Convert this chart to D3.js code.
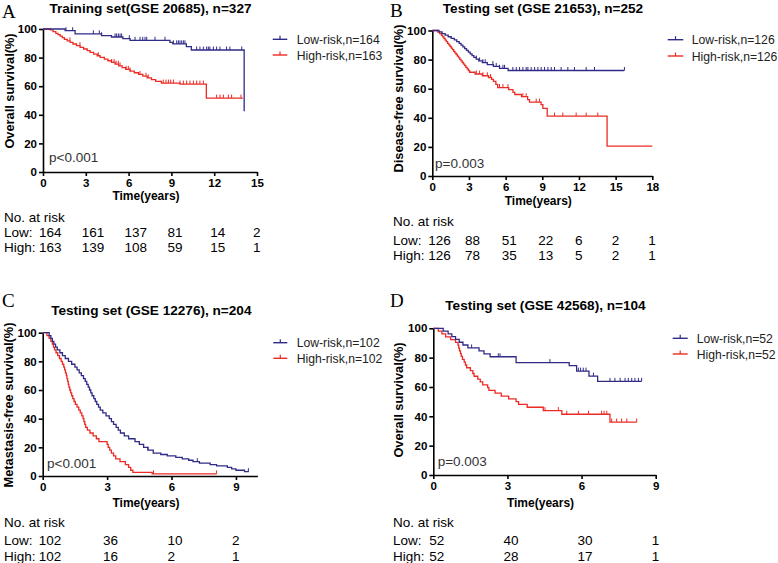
<!DOCTYPE html>
<html><head><meta charset="utf-8">
<script src="https://cdn.jsdelivr.net/npm/d3@7/dist/d3.min.js"></script>
<style>body{margin:0;background:#fff}svg{display:block}</style>
</head><body>
<svg id="c" width="778" height="563"></svg>
<script>
// ---------- DATA ----------
const panelLetters = ["A", "B", "C", "D"];
const titles = ["Training set(GSE 20685), n=327", "Testing set (GSE 21653), n=252",
                "Testing set (GSE 12276), n=204", "Testing set (GSE 42568), n=104"];
const yTitles = ["Overall survival(%)", "Disease-free survival(%)", "Metastasis-free survival(%)", "Overall survival(%)"];
const xTitle = "Time(years)";
const pValues = ["p<0.001", "p=0.003", "p<0.001", "p=0.003"];
const lowLegend = ["Low-risk,n=164", "Low-risk,n=126", "Low-risk,n=102", "Low-risk,n=52"];
const highLegend = ["High-risk,n=163", "High-risk,n=126", "High-risk,n=102", "High-risk,n=52"];
const yTicks = [0, 20, 40, 60, 80, 100];
const xDomains = [15, 18, 10, 9];
const aXTicks = [0, 3, 6, 9, 12, 15];
const bXTicks = [0, 3, 6, 9, 12, 15, 18];
const cXTicks = [0, 3, 6, 9];
const dXTicks = [0, 3, 6, 9];

// Panel A (time, survival %)
const aLowSteps = [[0,100],[1.55,98.8],[2.25,96.6],[4.1,95.3],[4.8,94.4],[5.6,93.2],[6.1,92.1],[8.9,90.6],[9.1,89.6],[10.05,87.7],[10.4,85.3],[14.1,42.4]];
const aLowCensor = [1.61,2.08,3.53,3.95,4.11,5.05,5.16,5.28,5.4,5.51,6.05,6.45,6.8,6.99,7.15,7.27,7.85,8.55,9.14,9.37,9.49,9.6,9.72,9.84,9.95,10.77,11.0,11.24,11.47,11.59,11.7,11.94,12.17,12.4,12.87,13.1,13.93];
const aHighSteps = [[0,100],[0.5,99.4],[0.7,98.2],[0.9,97],[1.05,96],[1.2,95],[1.35,93.9],[1.5,92.8],[1.7,91.7],[1.9,90.6],[2.1,89.5],[2.35,88.4],[2.6,87.2],[2.85,86],[3.1,84.9],[3.3,83.7],[3.55,82.5],[3.8,81.3],[4.0,80.2],[4.3,79],[4.55,77.8],[4.8,76.6],[5.05,75.4],[5.3,74.2],[5.55,73],[5.8,71.8],[6.1,70.6],[6.4,69.4],[6.7,68.2],[7.0,67],[7.3,65.8],[7.6,64.6],[7.9,63.4],[8.3,62.2],[9.6,61.5],[11.45,51.7],[14.0,51.7]];
const aHighCensor = [1.89,2.59,3.88,4.81,4.98,5.12,5.28,5.4,5.82,5.98,6.1,6.8,7.22,7.38,8.43,8.62,8.79,8.95,9.14,9.6,9.84,10.07,10.3,10.54,10.77,11.0,11.24,12.17,12.4,12.64,12.99,13.22,13.88];
const aRiskLow = [164, 161, 137, 81, 14, 2];
const aRiskHigh = [163, 139, 108, 59, 15, 1];

// Panel B
const bLowSteps = [[0,100],[0.55,99],[0.8,97.9],[1.05,96.8],[1.3,95.7],[1.55,94.6],[1.8,93.5],[2.0,92.3],[2.2,91.1],[2.35,89.9],[2.5,88.7],[2.65,87.5],[2.8,86.3],[2.95,85.1],[3.1,83.9],[3.25,82.7],[3.4,81.5],[3.6,80.3],[3.8,79.1],[4.1,77.9],[4.5,76.6],[5.0,75.3],[5.5,74.0],[6.2,72.5],[15.7,72.5]];
const bLowCensor = [3.6,3.87,4.14,4.33,4.96,5.23,5.5,5.78,5.91,6.59,6.87,7.14,7.41,7.68,7.82,8.09,8.37,8.64,8.91,9.18,9.46,9.73,10.0,10.54,11.09,11.63,12.59,13.27,15.72];
const bHighSteps = [[0,100],[0.45,98.9],[0.6,97.8],[0.75,96.7],[0.85,95.6],[0.95,94.5],[1.05,93.4],[1.15,92.3],[1.25,91.2],[1.35,90.1],[1.45,89.0],[1.55,87.9],[1.65,86.8],[1.75,85.7],[1.85,84.6],[1.95,83.5],[2.05,82.4],[2.15,81.3],[2.25,80.2],[2.35,79.1],[2.45,78.0],[2.55,76.9],[2.65,75.8],[2.75,74.7],[2.85,73.6],[2.95,72.5],[3.05,71.3],[3.5,70.1],[4.1,68.9],[4.6,67.7],[4.85,66.4],[5.0,65.1],[5.2,63.0],[5.35,60.8],[6.25,59.4],[6.6,57.5],[6.75,56.0],[7.3,54.5],[7.8,52.5],[7.95,50.8],[8.9,49.0],[9.05,46.5],[9.4,41.2],[14.3,20.6],[18.0,20.6]];
const bHighCensor = [3.6,3.87,4.14,4.5,4.77,5.5,5.78,6.19,7.41,7.68,8.5,8.77,10.0,10.68,11.77,12.59,13.54];
const bRiskLow = [126, 88, 51, 22, 6, 2, 1];
const bRiskHigh = [126, 78, 35, 13, 5, 2, 1];

// Panel C
const cLowSteps = [[0,100],[0.3,98],[0.38,96],[0.45,94],[0.52,92],[0.6,90],[0.68,88],[0.8,86],[0.92,84],[1.05,82],[1.2,80],[1.35,78],[1.5,76],[1.6,74],[1.7,72],[1.8,70],[1.9,68],[1.98,66],[2.05,64],[2.12,62],[2.18,60],[2.24,58],[2.3,56],[2.38,54],[2.45,52],[2.52,50],[2.6,48],[2.68,46],[2.8,44],[2.95,42],[3.1,40],[3.2,38],[3.3,36],[3.42,34],[3.52,32],[3.62,30],[3.8,28],[4.0,26],[4.3,24],[4.5,22],[4.7,20],[4.9,18],[5.15,16],[5.5,15],[5.8,14],[6.2,13],[6.5,12],[6.8,11],[7.0,10],[7.3,9],[7.8,8],[8.1,7],[8.6,6],[8.8,5],[9.0,4],[9.4,3],[9.6,3]];
const cLowCensor = [4.9, 7.2, 9.58];
const cHighSteps = [[0,100],[0.2,98],[0.3,96],[0.38,94],[0.45,92],[0.5,90],[0.55,88],[0.62,86],[0.7,84],[0.78,82],[0.86,80],[0.92,78],[0.98,76],[1.02,74],[1.06,72],[1.1,70],[1.13,68],[1.16,66],[1.19,64],[1.22,62],[1.26,60],[1.3,58],[1.35,56],[1.4,54],[1.46,52],[1.52,50],[1.6,48],[1.68,46],[1.75,44],[1.82,42],[1.88,40],[1.92,38],[1.96,36],[2.0,34],[2.08,32],[2.2,30],[2.35,28],[2.5,26],[2.62,24],[3.0,22],[3.05,20],[3.12,18],[3.2,16],[3.3,14],[3.4,12],[3.6,10],[3.85,8],[4.0,6],[4.1,4],[4.2,2.5],[5.1,1.5],[8.1,1.5]];
const cHighCensor = [5.16, 8.1];
const cRiskLow = [102, 36, 10, 2];
const cRiskHigh = [102, 16, 2, 1];

// Panel D
const dLowSteps = [[0,100],[0.4,98.1],[0.6,96.2],[0.75,94.3],[0.9,92.4],[1.05,90.5],[1.2,88.6],[1.4,86.6],[1.85,84.6],[2.05,82.6],[2.3,80.6],[3.35,76.6],[5.5,74.6],[5.8,70.8],[6.3,67.4],[6.65,63.8],[8.43,63.8]];
const dLowCensor = [1.55,2.63,2.7,4.72,5.87,5.96,6.07,6.18,6.48,7.15,7.35,7.56,7.76,7.89,8.03,8.16,8.3,8.43];
const dHighSteps = [[0,100],[0.2,98.1],[0.35,96.2],[0.5,94.2],[0.7,92.3],[0.9,90.4],[1.0,88.5],[1.03,86.5],[1.06,84.6],[1.1,82.7],[1.13,80.8],[1.18,78.8],[1.25,76.9],[1.3,75],[1.35,73.1],[1.5,71.2],[1.6,69.2],[1.65,67.3],[1.8,65.4],[1.9,63.5],[2.0,61.5],[2.2,59.6],[2.25,57.7],[2.5,55.8],[2.75,53.8],[3.05,51.9],[3.35,50],[3.45,48.1],[3.8,46.2],[4.45,43.9],[5.2,41.4],[7.15,36.1],[8.23,36.1]];
const dHighCensor = [4.52,5.06,5.4,5.87,6.28,6.81,6.91,7.02,7.22,7.42,7.62,7.83,8.23];
const dRiskLow = [52, 40, 30, 1];
const dRiskHigh = [52, 28, 17, 1];

// ---------- LAYOUT ----------
const BLUE = "#2f2b86", RED = "#ec2b25";
const SANS = "'Liberation Sans', Arial, Helvetica, sans-serif";
const SERIF = "'Liberation Serif', 'Times New Roman', serif";

const panels = [
  {xTicks: aXTicks, low: aLowSteps, lowC: aLowCensor, high: aHighSteps, highC: aHighCensor, rLow: aRiskLow, rHigh: aRiskHigh,
   x0: 43, x1: 257, yT: 29, yB: 172, letter: [2, 17.5], title: [150.5, 12.5], ytit: [10, 91], xtitY: 200, p: [49, 162],
   leg: [272.7, 287.3, 296.7, 39.3, 55], risk: [4, 222, 237, 252]},
  {xTicks: bXTicks, low: bLowSteps, lowC: bLowCensor, high: bHighSteps, highC: bHighCensor, rLow: bRiskLow, rHigh: bRiskHigh,
   x0: 432.3, x1: 652.3, yT: 30.5, yB: 176, letter: [390, 16.5], title: [543, 13], ytit: [399, 98.5], xtitY: 205, p: [435, 168],
   leg: [667.7, 683.3, 691.7, 39.7, 56], risk: [393, 226, 245, 260]},
  {xTicks: cXTicks, low: cLowSteps, lowC: cLowCensor, high: cHighSteps, highC: cHighCensor, rLow: cRiskLow, rHigh: cRiskHigh,
   x0: 42.7, x1: 257.4, yT: 332.7, yB: 476, letter: [2, 307], title: [151.3, 315], ytit: [8.5, 405], xtitY: 507, p: [47, 468],
   leg: [273.3, 287.3, 296.7, 342.7, 358.3], risk: [4, 527, 545, 561]},
  {xTicks: dXTicks, low: dLowSteps, lowC: dLowCensor, high: dHighSteps, highC: dHighCensor, rLow: dRiskLow, rHigh: dRiskHigh,
   x0: 433.3, x1: 655.7, yT: 328.3, yB: 475, letter: [390, 307], title: [545.5, 309.5], ytit: [398.5, 400], xtitY: 507, p: [437.7, 465.7],
   leg: [672.7, 687.7, 696.7, 338.3, 354], risk: [393, 527, 545, 561]}
];

const svg = d3.select("#c");

function survAt(steps, t) {
  let s = steps[0][1];
  for (const [tt, ss] of steps) { if (tt <= t + 1e-9) s = ss; else break; }
  return s;
}

panels.forEach((P, i) => {
  const g = svg.append("g");
  const x = d3.scaleLinear().domain([0, xDomains[i]]).range([P.x0, P.x1]);
  const y = d3.scaleLinear().domain([0, 100]).range([P.yB, P.yT]);

  g.append("text").attr("x", P.letter[0]).attr("y", P.letter[1]).text(panelLetters[i])
    .attr("font-family", SERIF).attr("font-size", 19).attr("fill", "#000");
  g.append("text").attr("x", P.title[0]).attr("y", P.title[1]).text(titles[i])
    .attr("text-anchor", "middle").attr("font-family", SANS).attr("font-weight", "bold").attr("font-size", 13.6);

  const xAxis = d3.axisBottom(x).tickValues(P.xTicks).tickSize(4).tickSizeOuter(0).tickFormat(d3.format("d"));
  const yAxis = d3.axisLeft(y).tickValues(yTicks).tickSize(4).tickSizeOuter(0);
  const gx = g.append("g").attr("transform", `translate(0,${P.yB})`).call(xAxis);
  const gy = g.append("g").attr("transform", `translate(${P.x0},0)`).call(yAxis);
  [gx, gy].forEach(a => {
    a.select(".domain").attr("stroke", "#000").attr("stroke-width", 1.6);
    a.selectAll(".tick line").attr("stroke", "#000").attr("stroke-width", 1.6);
    a.selectAll(".tick text").attr("font-family", SANS).attr("font-weight", "bold").attr("font-size", 11.5).attr("fill", "#000");
  });
  gx.selectAll(".tick text").attr("y", 7).attr("dy", "0.71em");
  gy.selectAll(".tick text").attr("x", -6);

  g.append("text").attr("transform", `translate(${P.ytit[0]},${P.ytit[1]}) rotate(-90)`).attr("dy", "0.35em")
    .attr("text-anchor", "middle").attr("font-family", SANS).attr("font-weight", "bold").attr("font-size", 12.8).text(yTitles[i]);
  g.append("text").attr("x", (P.x0 + P.x1) / 2 - 4).attr("y", P.xtitY).attr("text-anchor", "middle")
    .attr("font-family", SANS).attr("font-weight", "bold").attr("font-size", 12).text(xTitle);

  const line = d3.line().x(d => x(d[0])).y(d => y(d[1])).curve(d3.curveStepAfter);
  [[P.high, P.highC, RED], [P.low, P.lowC, BLUE]].forEach(([steps, cens, col]) => {
    g.append("path").datum(steps).attr("d", line).attr("fill", "none").attr("stroke", col).attr("stroke-width", 1.3);
    g.selectAll(null).data(cens).enter().append("line")
      .attr("x1", d => x(d)).attr("x2", d => x(d))
      .attr("y1", d => y(survAt(steps, d))).attr("y2", d => y(survAt(steps, d)) - 3.5)
      .attr("stroke", col).attr("stroke-width", 1);
  });

  g.append("text").attr("x", P.p[0]).attr("y", P.p[1]).text(pValues[i])
    .attr("font-family", SANS).attr("font-size", 13.5).attr("fill", "#333");

  [[lowLegend[i], BLUE, P.leg[3]], [highLegend[i], RED, P.leg[4]]].forEach(([lab, col, ly]) => {
    g.append("line").attr("x1", P.leg[0]).attr("x2", P.leg[1]).attr("y1", ly).attr("y2", ly).attr("stroke", col).attr("stroke-width", 1.4);
    const mx = (P.leg[0] + P.leg[1]) / 2;
    g.append("line").attr("x1", mx).attr("x2", mx).attr("y1", ly).attr("y2", ly - 3.5).attr("stroke", col).attr("stroke-width", 1.2);
    g.append("text").attr("x", P.leg[2]).attr("y", ly + 4.5).text(lab)
      .attr("font-family", SANS).attr("font-size", 12.2).attr("fill", "#222");
  });

  const rk = g.append("g").attr("font-family", SANS).attr("font-size", 13.5).attr("fill", "#000");
  rk.append("text").attr("x", P.risk[0]).attr("y", P.risk[1]).text("No. at risk");
  rk.append("text").attr("x", P.risk[0]).attr("y", P.risk[2]).text("Low:");
  rk.append("text").attr("x", P.risk[0]).attr("y", P.risk[3]).text("High:");
  [[P.rLow, P.risk[2]], [P.rHigh, P.risk[3]]].forEach(([vals, ry]) => {
    rk.selectAll(null).data(vals).enter().append("text")
      .attr("x", (d, j) => x(P.xTicks[j]) - 4).attr("y", ry).text(d => d);
  });
});
</script>
</body></html>
